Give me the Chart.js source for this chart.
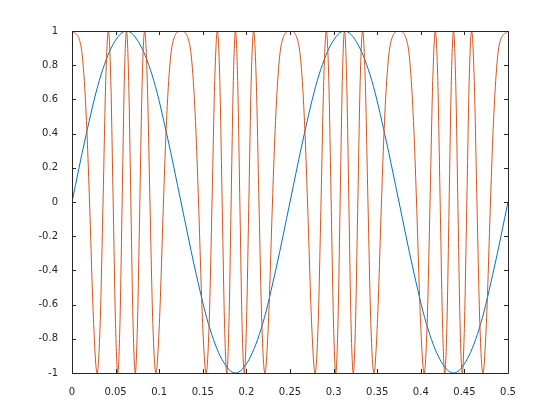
<!DOCTYPE html>
<html>
<head>
<meta charset="utf-8">
<script src="https://cdn.jsdelivr.net/npm/chart.js@4/dist/chart.umd.min.js"></script>
<style>
  html, body { margin: 0; padding: 0; background: #fff; }
  #wrap { width: 560px; height: 420px; position: relative; }
</style>
</head>
<body>
<div id="wrap"><canvas id="plot"></canvas></div>
<script>
/* Data */

// blue slow wave
const blueT = [0, 0.0156, 0.0313, 0.0469, 0.0625, 0.0781, 0.0938, 0.1094, 0.125,
  0.1406, 0.1563, 0.1719, 0.1875, 0.2031, 0.2188, 0.2344, 0.25,
  0.2656, 0.2813, 0.2969, 0.3125, 0.3281, 0.3438, 0.3594, 0.375,
  0.3906, 0.4063, 0.4219, 0.4375, 0.4531, 0.4688, 0.4844, 0.5]
const blueY = [0, 0.38, 0.71, 0.92, 1, 0.92, 0.71, 0.38, 0,
  -0.38, -0.71, -0.92, -1, -0.92, -0.71, -0.38, 0,
  0.38, 0.71, 0.92, 1, 0.92, 0.71, 0.38, 0,
  -0.38, -0.71, -0.92, -1, -0.92, -0.71, -0.38, 0]

// orange fast wave (peaks, troughs, crossings)
const orangeT = [
  0, 0.0100, 0.0141, 0.0174, 0.0201, 0.0248, 0.0288, 0.0323, 0.0356, 0.0387, 0.0417, 0.0445,
  0.0472, 0.0499, 0.0525, 0.0550, 0.0575, 0.0600, 0.0625, 0.0650, 0.0675, 0.0700, 0.0726, 0.0751,
  0.0778, 0.0805, 0.0833, 0.0863, 0.0894, 0.0927, 0.0962, 0.1002, 0.1049, 0.1076, 0.1109, 0.1150, 0.125,
  0.1350, 0.1391, 0.1424, 0.1451, 0.1498, 0.1538, 0.1573, 0.1606, 0.1637, 0.1667, 0.1695, 0.1722,
  0.1749, 0.1775, 0.1800, 0.1825, 0.1850, 0.1875, 0.1900, 0.1925, 0.1950, 0.1976, 0.2001, 0.2028,
  0.2055, 0.2083, 0.2113, 0.2144, 0.2177, 0.2212, 0.2252, 0.2299, 0.2326, 0.2359, 0.2400, 0.25,
  0.2600, 0.2641, 0.2674, 0.2701, 0.2748, 0.2788, 0.2823, 0.2856, 0.2887, 0.2917, 0.2945, 0.2972,
  0.2999, 0.3025, 0.3050, 0.3075, 0.3100, 0.3125, 0.3150, 0.3175, 0.3200, 0.3226, 0.3251, 0.3278,
  0.3305, 0.3333, 0.3363, 0.3394, 0.3427, 0.3462, 0.3502, 0.3549, 0.3576, 0.3609, 0.3650, 0.375,
  0.3850, 0.3891, 0.3924, 0.3951, 0.3998, 0.4038, 0.4073, 0.4106, 0.4137, 0.4167, 0.4195, 0.4222,
  0.4249, 0.4275, 0.4300, 0.4325, 0.4350, 0.4375, 0.4400, 0.4425, 0.4450, 0.4476, 0.4501, 0.4528,
  0.4555, 0.4583, 0.4613, 0.4644, 0.4677, 0.4712, 0.4752, 0.4799, 0.4826, 0.4859, 0.4900, 0.5]
const orangeY = [
  1, 0.92, 0.71, 0.38, 0, -0.71, -1, -0.71, 0, 0.71, 1, 0.71,
  0, -0.71, -1, -0.71, 0, 0.71, 1, 0.71, 0, -0.71, -1, -0.71,
  0, 0.71, 1, 0.71, 0, -0.71, -1, -0.71, 0, 0.38, 0.71, 0.92, 1,
  0.92, 0.71, 0.38, 0, -0.71, -1, -0.71, 0, 0.71, 1, 0.71,
  0, -0.71, -1, -0.71, 0, 0.71, 1, 0.71, 0, -0.71, -1, -0.71,
  0, 0.71, 1, 0.71, 0, -0.71, -1, -0.71, 0, 0.38, 0.71, 0.92, 1,
  0.92, 0.71, 0.38, 0, -0.71, -1, -0.71, 0, 0.71, 1, 0.71,
  0, -0.71, -1, -0.71, 0, 0.71, 1, 0.71, 0, -0.71, -1, -0.71,
  0, 0.71, 1, 0.71, 0, -0.71, -1, -0.71, 0, 0.38, 0.71, 0.92, 1,
  0.92, 0.71, 0.38, 0, -0.71, -1, -0.71, 0, 0.71, 1, 0.71,
  0, -0.71, -1, -0.71, 0, 0.71, 1, 0.71, 0, -0.71, -1, -0.71,
  0, 0.71, 1, 0.71, 0, -0.71, -1, -0.71, 0, 0.38, 0.71, 0.92, 1]

const xMin = 0, xMax = 0.5, xStep = 0.05
const yMin = -1, yMax = 1, yStep = 0.2

const axisColor = '#262626'

const toPoints = (xs, ys) => xs.map((x, i) => ({ x: x, y: ys[i] }))

/* box and inward ticks, octave style */
const boxPlugin = {
  id: 'box',
  afterDraw(chart) {
    const ctx = chart.ctx
    const a = chart.chartArea
    const xs = chart.scales.x
    const ys = chart.scales.y
    const len = 4
    ctx.save()
    ctx.strokeStyle = axisColor
    ctx.lineWidth = 1
    ctx.beginPath()
    ctx.rect(Math.round(a.left) + 0.5, Math.round(a.top) + 0.5,
      Math.round(a.right - a.left), Math.round(a.bottom - a.top))
    for (const t of xs.ticks) {
      const px = Math.round(xs.getPixelForValue(t.value)) + 0.5
      ctx.moveTo(px, a.bottom); ctx.lineTo(px, a.bottom - len)
      ctx.moveTo(px, a.top); ctx.lineTo(px, a.top + len)
    }
    for (const t of ys.ticks) {
      const py = Math.round(ys.getPixelForValue(t.value)) + 0.5
      ctx.moveTo(a.left, py); ctx.lineTo(a.left + len, py)
      ctx.moveTo(a.right, py); ctx.lineTo(a.right - len, py)
    }
    ctx.stroke()
    ctx.restore()
  }
}

const tickFont = { family: 'DejaVu Sans', size: 10 }

new Chart(document.getElementById('plot'), {
  type: 'line',
  data: {
    datasets: [
      {
        data: toPoints(orangeT, orangeY),
        borderColor: '#D95319',
        borderWidth: 1,
        pointRadius: 0,
        cubicInterpolationMode: 'monotone',
        fill: false
      },
      {
        data: toPoints(blueT, blueY),
        borderColor: '#0072BD',
        borderWidth: 1,
        pointRadius: 0,
        cubicInterpolationMode: 'monotone',
        fill: false
      }
    ]
  },
  options: {
    animation: false,
    responsive: true,
    maintainAspectRatio: false,
    layout: { padding: { top: 31, right: 52, left: 0, bottom: 0 } },
    plugins: { legend: { display: false }, tooltip: { enabled: false } },
    scales: {
      x: {
        type: 'linear',
        min: xMin,
        max: xMax,
        grid: { display: false },
        border: { display: false },
        afterFit: (scale) => { scale.height = 47 },
        ticks: {
          stepSize: xStep,
          padding: 5,
          maxRotation: 0,
          autoSkip: false,
          color: axisColor,
          font: tickFont,
          callback: (v) => String(Math.round(v * 100) / 100)
        }
      },
      y: {
        type: 'linear',
        min: yMin,
        max: yMax,
        grid: { display: false },
        border: { display: false },
        afterFit: (scale) => { scale.width = 72 },
        ticks: {
          stepSize: yStep,
          padding: 6,
          autoSkip: false,
          color: axisColor,
          font: tickFont,
          callback: (v) => String(Math.round(v * 10) / 10)
        }
      }
    }
  },
  plugins: [boxPlugin]
})
</script>
</body>
</html>
